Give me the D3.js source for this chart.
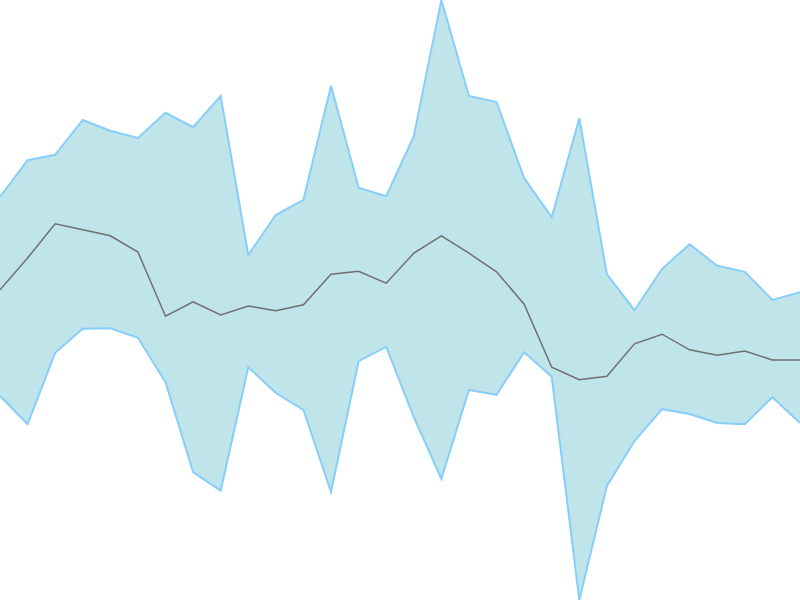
<!DOCTYPE html>
<html>
<head>
<meta charset="utf-8">
<script src="https://cdn.jsdelivr.net/npm/d3@7"></script>
<style>
  html, body { margin: 0; padding: 0; background: #fff; }
  svg { display: block; }
</style>
</head>
<body>
<svg id="chart" width="800" height="600"></svg>
<script>
// band of upper/lower values with a middle line, 30 steps
var steps = d3.range(30);
var upper = [67.2, 73.3, 74.2, 80, 78.2, 77, 81.2, 78.8, 84, 57.5,
             64.2, 66.7, 85.7, 68.7, 67.3, 77.3, 100, 84, 83, 70.3,
             63.8, 80.3, 54.3, 48.3, 55.2, 59.3, 55.7, 54.7, 50, 51.3];
var lower = [34, 29.3, 41.2, 45.2, 45.3, 43.7, 36.3, 21.3, 18.2, 38.8,
             34.5, 31.7, 18, 39.8, 42.2, 30.5, 20.2, 35, 34.2, 41.3,
             37.2, 0, 19, 26.5, 31.8, 31, 29.5, 29.3, 33.8, 29.5];
var middle = [51.7, 57, 62.7, 61.7, 60.7, 58, 47.3, 49.7, 47.5, 49,
              48.2, 49.2, 54.3, 54.8, 52.8, 57.8, 60.7, 57.8, 54.7, 49.3,
              38.8, 36.7, 37.3, 42.7, 44.3, 41.7, 40.8, 41.5, 40, 40];

var width = 800, height = 600;
var svg = d3.select("#chart");

var x = d3.scaleLinear().domain([0, steps.length - 1]).range([0, width]);
var y = d3.scaleLinear().domain([0, 100]).range([height, 0]);

var area = d3.area()
    .x(function (d) { return x(d); })
    .y0(function (d) { return y(lower[d]); })
    .y1(function (d) { return y(upper[d]); });

svg.append("path")
    .datum(steps)
    .attr("d", area)
    .attr("fill", "#bfe4e9");

// outline top and bottom edges
var edge = function (arr) {
    return d3.line()
        .x(function (d) { return x(d); })
        .y(function (d) { return y(arr[d]); });
};

svg.append("path")
    .datum(steps)
    .attr("d", edge(upper))
    .attr("fill", "none")
    .attr("stroke", "#87cefa")
    .attr("stroke-width", 2);

svg.append("path")
    .datum(steps)
    .attr("d", edge(lower))
    .attr("fill", "none")
    .attr("stroke", "#87cefa")
    .attr("stroke-width", 2);

svg.append("path")
    .datum(steps)
    .attr("d", edge(middle))
    .attr("fill", "none")
    .attr("stroke", "#707070")
    .attr("stroke-width", 1.5);
</script>
</body>
</html>
